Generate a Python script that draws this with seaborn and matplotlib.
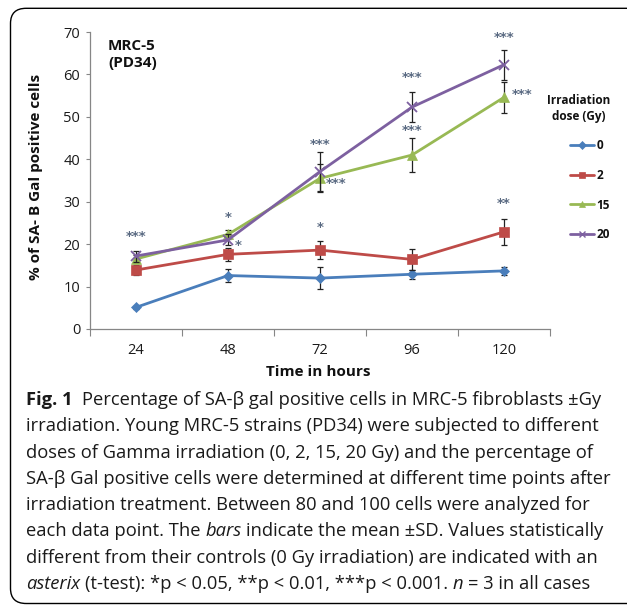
import numpy as np
import pandas as pd
import matplotlib
matplotlib.use("Agg")
import matplotlib.pyplot as plt
import seaborn as sns
from matplotlib.lines import Line2D
from matplotlib.patches import FancyBboxPatch

# ---------------- data ----------------
times = ["24", "48", "72", "96", "120"]
doses = ["0", "2", "15", "20"]
mean_0 = [5.1, 12.6, 12.0, 12.9, 13.7]
mean_2 = [13.9, 17.6, 18.6, 16.4, 22.9]
mean_15 = [16.5, 22.3, 35.5, 41.0, 54.6]
mean_20 = [17.2, 21.0, 37.1, 52.3, 62.3]
sd_0 = [0.3, 1.5, 2.5, 1.1, 1.0]
sd_2 = [1.1, 1.5, 2.2, 2.5, 3.0]
sd_15 = [1.0, 1.0, 3.3, 4.0, 3.7]
sd_20 = [1.3, 1.3, 4.6, 3.6, 3.5]
# significance marks: (time index, y value, text)
sig_marks = [
    (0, 21.7, "***"), (1, 26.2, "*"), (1.11, 19.6, "*"),
    (2, 43.6, "***"), (2.18, 34.2, "***"), (2, 23.9, "*"),
    (3, 59.2, "***"), (3, 46.7, "***"),
    (4, 68.6, "***"), (4.2, 55.2, "***"), (4, 29.5, "**"),
]

means = [mean_0, mean_2, mean_15, mean_20]
sds = [sd_0, sd_2, sd_15, sd_20]
colors = ["#4a7ebb", "#be4b48", "#98b954", "#7d60a0"]
markers = ["D", "s", "^", "x"]
msizes = [5.5, 7, 7.5, 7.5]

rows = []
for d, m, s in zip(doses, means, sds):
    for i, t in enumerate(times):
        rows.append({"dose": d, "idx": i, "time": t, "pct": m[i], "sd": s[i]})
df = pd.DataFrame(rows)

W, H = 627, 605
sns.set_theme(style="white")
plt.rcParams["font.family"] = ["Open Sans", "DejaVu Sans"]

fig = plt.figure(figsize=(W / 100, H / 100), dpi=100)
fig.patch.set_facecolor("white")
ax = fig.add_axes([90 / W, 1 - 329 / H, 460 / W, 297 / H])
ax.set_facecolor("white")

for k, d in enumerate(doses):
    sub = df[df["dose"] == d]
    ax.errorbar(sub["idx"], sub["pct"], yerr=sub["sd"], fmt="none",
                ecolor="#222222", elinewidth=0.9, capsize=2.3, capthick=0.9,
                zorder=2 + k)
    sns.lineplot(data=sub, x="idx", y="pct", color=colors[k], marker=markers[k],
                 markersize=msizes[k], markeredgecolor=colors[k],
                 markeredgewidth=1.3 if markers[k] == "x" else 0.5,
                 linewidth=2.0, ax=ax, errorbar=None, zorder=2 + k)

ax.set_xlim(-0.5, 4.5)
ax.set_ylim(0, 70)
ax.set_yticks(np.arange(0, 71, 10))
ax.set_xticks(range(len(times)))
ax.set_xticklabels(times)
ax.set_xticks(np.arange(-0.5, 4.6, 1.0), minor=True)
ax.tick_params(axis="x", which="major", length=0, pad=10, labelsize=10.5, labelcolor="#1a1a1a")
ax.tick_params(axis="x", which="minor", length=5, width=0.8, color="#868686", direction="out", bottom=True)
ax.tick_params(axis="y", which="major", length=3, width=0.8, color="#868686", direction="out",
               pad=4, labelsize=10.5, labelcolor="#1a1a1a", left=True)
for sp in ["top", "right"]:
    ax.spines[sp].set_visible(False)
for sp in ["left", "bottom"]:
    ax.spines[sp].set_color("#868686")
    ax.spines[sp].set_linewidth(0.9)

ax.set_xlabel("Time in hours", fontsize=11, fontweight="bold", color="#111111")
ax.xaxis.label.set_va("center")
ax.xaxis.set_label_coords((318 - 90) / 460, (329 - 372) / 297)
ax.set_ylabel("% of SA- Β Gal positive cells", fontsize=11, fontweight="bold", color="#111111")
ax.yaxis.label.set_va("center")
ax.yaxis.set_label_coords((36 - 90) / 460, (329 - 177) / 297)

ax.text((108 - 90) / 460, (329 - 54.5) / 297, "MRC-5\n(PD34)", transform=ax.transAxes,
        ha="left", va="center", fontsize=11, fontweight="bold", linespacing=1.3, color="#111111")

for x, y, s in sig_marks:
    ax.text(x, y, s, ha="center", va="center", fontsize=9.5, color="#5a6a82",
            fontfamily=["DejaVu Sans"], fontweight="bold")

# legend
handles = [Line2D([0], [0], color=c, marker=m, markersize=4.5, linewidth=2.0,
                  markeredgecolor=c, markeredgewidth=1.0 if m == "x" else 0.5)
           for c, m in zip(colors, markers)]
leg = ax.legend(handles, doses, loc="upper left", bbox_to_anchor=(570 / W, 1 - 139 / H),
                bbox_transform=fig.transFigure, frameon=False, fontsize=8.5,
                handlelength=2.0, handletextpad=0.25, labelspacing=1.42,
                borderpad=0, borderaxespad=0)
for t in leg.get_texts():
    t.set_fontweight("bold")
    t.set_color("#111111")
fig.text(579 / W, 1 - 108.5 / H, "Irradiation\ndose (Gy)", ha="center", va="center",
         fontsize=8.5, fontweight="bold", linespacing=1.3, color="#111111")

# rounded frame
frame = FancyBboxPatch((10.5 / W, 1 - 603.5 / H), 800 / W, (603.5 - 8.3) / H,
                       boxstyle="round,pad=0,rounding_size=0.025",
                       transform=fig.transFigure, fill=False, edgecolor="black",
                       linewidth=1.0, clip_on=False)
fig.add_artist(frame)

# caption
cap_lines = [
    [("Fig. 1", "bold", "normal"), ("  ", "normal", "normal"), ("Percentage of SA-β gal positive cells in MRC-5 fibroblasts ±Gy", "normal", "normal")],
    [("irradiation. Young MRC-5 strains (PD34) were subjected to different", "normal", "normal")],
    [("doses of Gamma irradiation (0, 2, 15, 20 Gy) and the percentage of", "normal", "normal")],
    [("SA-β Gal positive cells were determined at different time points after", "normal", "normal")],
    [("irradiation treatment. Between 80 and 100 cells were analyzed for", "normal", "normal")],
    [("each data point. The", "normal", "normal"), (" ", "normal", "normal"), ("bars", "normal", "italic"), (" ", "normal", "normal"), ("indicate the mean ±SD. Values statistically", "normal", "normal")],
    [("different from their controls (0 Gy irradiation) are indicated with an", "normal", "normal")],
    [("asterix", "normal", "italic"), (" ", "normal", "normal"), ("(t-test): *p < 0.05, **p < 0.01, ***p < 0.001.", "normal", "normal"), (" ", "normal", "normal"), ("n", "normal", "italic"), (" ", "normal", "normal"), ("= 3 in all cases", "normal", "normal")],
]
cap_right = [612, 589, 585, 606, 586, 606, 600, 603]
cap_family = ["Open Sans", "DejaVu Sans"]
renderer = fig.canvas.get_renderer()


def piece_width(s, size, weight, style):
    if s.strip() == "":
        a = fig.text(0, 0, "a a", fontsize=size, family=cap_family)
        b = fig.text(0, 0, "aa", fontsize=size, family=cap_family)
        w = a.get_window_extent(renderer).width - b.get_window_extent(renderer).width
        a.remove(); b.remove()
        return w * len(s)
    t = fig.text(0, 0, s, fontsize=size, fontweight=weight, style=style, family=cap_family)
    w = t.get_window_extent(renderer).width
    t.remove()
    return w


base_size = 12.0
ratios = []
for line, r in zip(cap_lines, cap_right):
    wl = sum(piece_width(s, base_size, wt, st) for s, wt, st in line)
    ratios.append((r - 26) / wl)
cap_size = base_size * float(np.median(ratios))
cap_size = min(cap_size, base_size * min(ratios) * 1.02)

for i, line in enumerate(cap_lines):
    x = 26.0
    yb = 405 + 26.3 * i
    for s, wt, st in line:
        w = piece_width(s, cap_size, wt, st)
        if s.strip() != "":
            fig.text(x / W, 1 - yb / H, s, fontsize=cap_size, fontweight=wt, style=st,
                     family=cap_family, ha="left", va="baseline", color="#1a1a1a")
        x += w

fig.savefig("out.png", dpi=100, facecolor="white")
